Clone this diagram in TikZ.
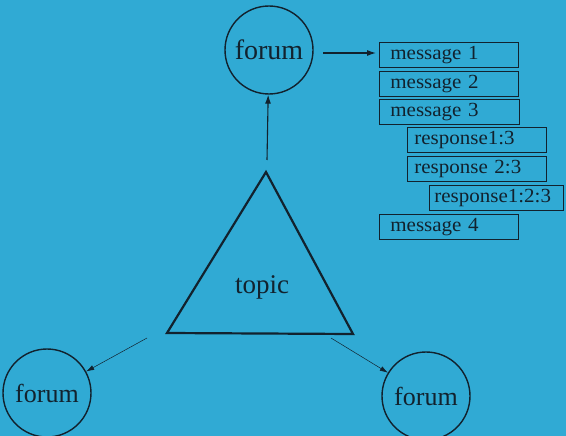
\documentclass[tikz,border=0pt]{standalone}
\usepackage{fontspec}
\setmainfont{Liberation Serif}
\newfontfamily\msgfont[FakeStretch=1.05]{Liberation Serif}
\usetikzlibrary{arrows.meta}
\definecolor{bg}{RGB}{48,170,212}
\definecolor{ink}{RGB}{18,34,46}
\tikzset{
  forum/.style={circle, draw=ink, line width=1.4pt, minimum size=88pt, inner sep=0pt,
    text=ink, font=\fontsize{27}{30}\selectfont},
  msgbox/.style={draw=ink, line width=0.7pt, anchor=north west, minimum height=25pt,
    inner ysep=0pt, align=left, text=ink, font=\msgfont\fontsize{20}{22}\selectfont},
  thickarrow/.style={draw=ink, line width=1.1pt, -{Latex[length=9pt,width=6pt]}},
  thinarrow/.style={draw=ink, line width=0.5pt, -{Latex[length=8pt,width=5pt]}}
}
\begin{document}
\begin{tikzpicture}[x=1pt,y=-1pt]
\fill[bg] (0,0) rectangle (566,436);
\useasboundingbox (0,0) rectangle (566,436);
% triangle
\coordinate (tA) at (266,172);
\coordinate (tL) at (167,333);
\coordinate (tR) at (353,334);
\draw[ink, line width=2.2pt, line join=miter] (tA) -- (tL) -- (tR) -- cycle;
\node[text=ink, font=\fontsize{27}{30}\selectfont] (topic) at (262,287) {topic};
% forums
\node[forum, font=\fontsize{28}{30}\selectfont] (f1) at (269,50) {forum};
\node[forum, font=\fontsize{26}{30}\selectfont] (f2) at (47,393) {forum};
\node[forum, font=\fontsize{26}{30}\selectfont] (f3) at (426,396) {forum};
% messages
\node[msgbox, inner xsep=11pt, text width=117pt] (m1) at (379,42) {message 1};
\node[msgbox, inner xsep=11pt, text width=117pt] (m2) at (379,71) {message 2};
\node[msgbox, inner xsep=11pt, text width=118pt] (m3) at (379,99) {message 3};
\node[msgbox, inner xsep=7pt, text width=125pt] (r1) at (407,127) {response1:3};
\node[msgbox, inner xsep=7pt, text width=125pt] (r2) at (407,156) {response 2:3};
\node[msgbox, inner xsep=5pt, text width=124pt] (r3) at (429,185) {response1:2:3};
\node[msgbox, inner xsep=11pt, text width=117pt] (m4) at (379,214) {message 4};
% connectors
\coordinate (a1) at (267,160);
\coordinate (a2) at (323,53);
\coordinate (a3) at (147,338);
\coordinate (a4) at (331,338);
\draw[thickarrow] (a1) -- (f1);
\draw[thickarrow, shorten >=3pt] (a2) -- (a2 -| m1.west);
\draw[thinarrow] (a3) -- (f2);
\draw[thinarrow] (a4) -- (f3);
\end{tikzpicture}
\end{document}
